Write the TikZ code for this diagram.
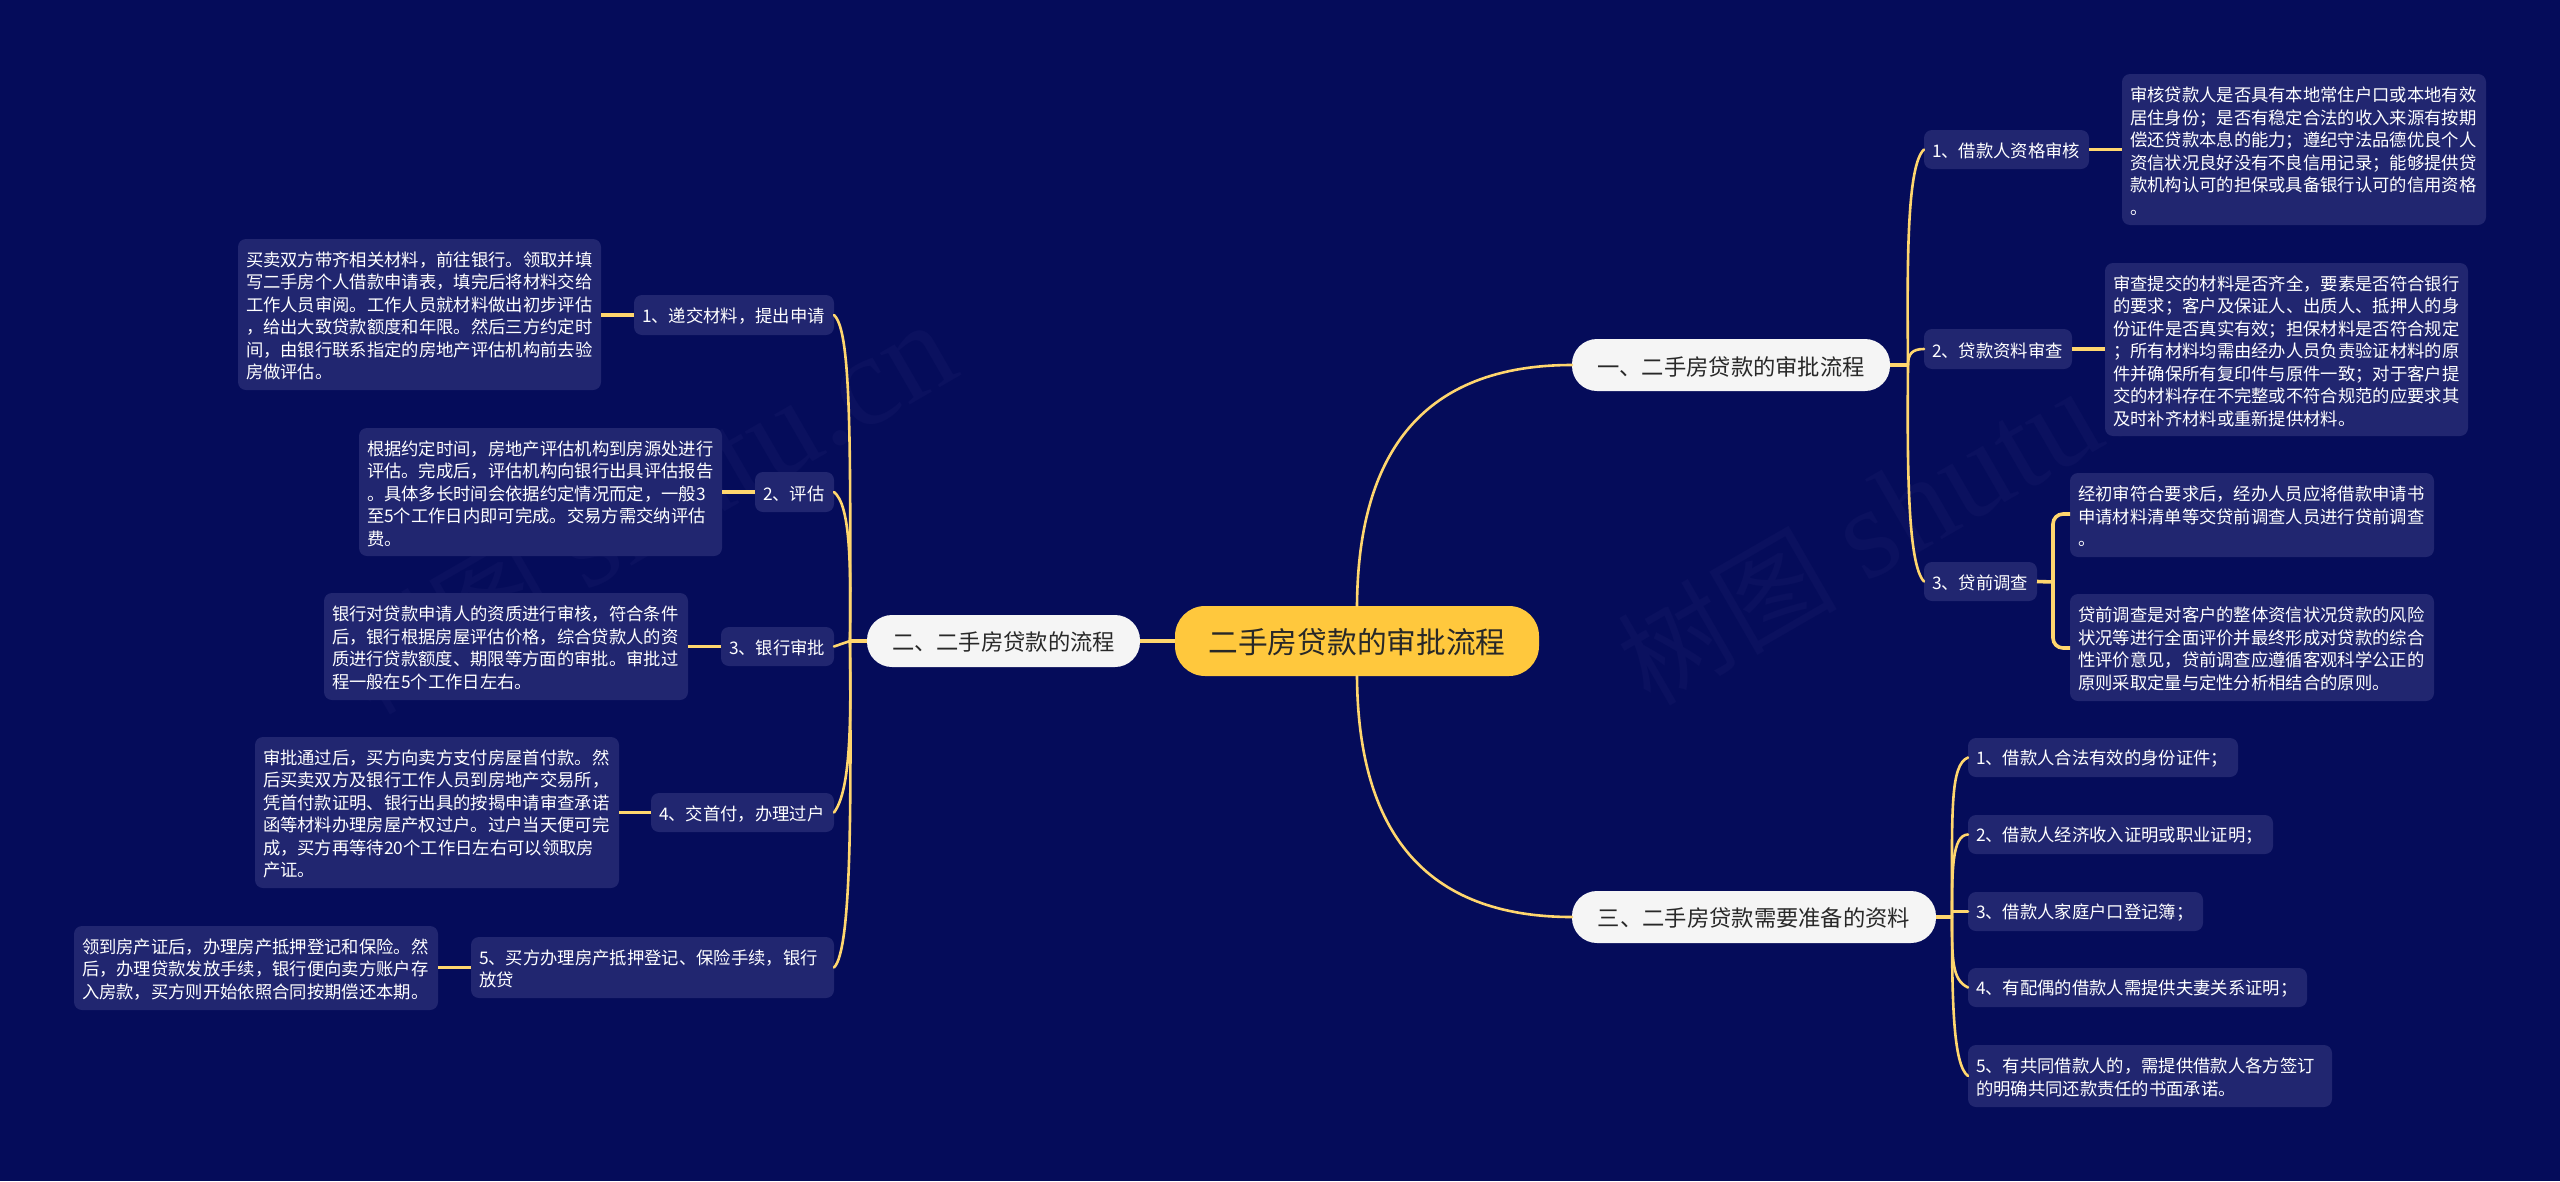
\documentclass[tikz,border=0pt]{standalone}
\usepackage{fontspec}
\setmainfont{Noto Sans CJK SC}
\newfontfamily\wmfont{Liberation Serif}
\definecolor{bgc}{RGB}{5,12,90}
\definecolor{boxc}{RGB}{33,38,112}
\definecolor{linec}{RGB}{255,214,110}
\definecolor{mainc}{RGB}{255,200,61}
\definecolor{pillc}{RGB}{245,245,245}
\definecolor{wmc}{RGB}{11,17,95}
\definecolor{darktxt}{RGB}{40,40,40}
\tikzset{
 textbox/.style={fill=boxc,text=white,rounded corners=8pt,inner sep=0pt,outer sep=0pt,font=\fontsize{17.33}{22.5}\selectfont},
 pill/.style={fill=pillc,text=darktxt,rounded corners=25pt,inner sep=0pt,outer sep=0pt,font=\fontsize{22.3}{28}\selectfont},
 mainbox/.style={fill=mainc,text=darktxt,rounded corners=30pt,inner sep=0pt,outer sep=0pt,font=\fontsize{29.7}{36}\selectfont},
 conn/.style={draw=linec,line width=2.6pt,line cap=round},
 thick conn/.style={draw=linec,line width=3.6pt},
 wm/.style={text=wmc,inner sep=0pt,rotate=30,anchor=base west,font=\fontsize{110}{120}\selectfont}
}
\newcommand\wmtext{树图\hspace{29pt}{\wmfont\fontsize{130}{130}\selectfont shutu.cn}}
% box: name, x1, y1, x2, y2, text
\newcommand\tbox[6]{\pgfmathsetmacro\bw{#4-#2}\pgfmathsetmacro\bh{#5-#3}\pgfmathsetmacro\tw{#4-#2-16}%
 \node[textbox,minimum width=\bw pt,minimum height=\bh pt] (#1) at ({(#2+#4)/2},{(#3+#5)/2}) {\raisebox{-1.5pt}[\height][\depth]{\parbox{\tw pt}{\raggedright #6}}};}
\newcommand\pbox[7]{\pgfmathsetmacro\bw{#5-#3}\pgfmathsetmacro\bh{#6-#4}%
 \node[#1,minimum width=\bw pt,minimum height=\bh pt] (#2) at ({(#3+#5)/2},{(#4+#6)/2}) {\raisebox{-1.5pt}[\height][\depth]{#7}};}
\begin{document}
\begin{tikzpicture}[x=1pt,y=-1pt]
\fill[bgc] (0,0) rectangle (2560,1181);
\useasboundingbox (0,0) rectangle (2560,1181);
% watermarks
\node[wm] (wmr) at (1650,708) {\wmtext};
\node[wm] (wml) at (370,717) {\wmtext};
% nodes
\pbox{mainbox}{root}{1175}{606}{1539}{676}{二手房贷款的审批流程}
\pbox{pill}{rone}{1572}{339}{1890}{391}{一、二手房贷款的审批流程}
\pbox{pill}{ltwo}{867}{615}{1140}{667}{二、二手房贷款的流程}
\pbox{pill}{rthree}{1572}{891}{1936}{943}{三、二手房贷款需要准备的资料}
% left labels
\tbox{la}{634}{295}{834}{335}{1、递交材料，提出申请}
\tbox{lb}{755}{472}{834}{512}{2、评估}
\tbox{lc}{721}{627}{834}{666}{3、银行审批}
\tbox{ld}{651}{793}{834}{832}{4、交首付，办理过户}
\tbox{le}{471}{937}{834}{998}{5、买方办理房产抵押登记、保险手续，银行\\放贷}
% left boxes
\tbox{ba}{238}{239}{601}{390}{买卖双方带齐相关材料，前往银行。领取并填\\写二手房个人借款申请表，填完后将材料交给\\工作人员审阅。工作人员就材料做出初步评估\\，给出大致贷款额度和年限。然后三方约定时\\间，由银行联系指定的房地产评估机构前去验\\房做评估。}
\tbox{bb}{359}{428}{722}{556}{根据约定时间，房地产评估机构到房源处进行\\评估。完成后，评估机构向银行出具评估报告\\。具体多长时间会依据约定情况而定，一般3\\至5个工作日内即可完成。交易方需交纳评估\\费。}
\tbox{bc}{324}{593}{688}{700}{银行对贷款申请人的资质进行审核，符合条件\\后，银行根据房屋评估价格，综合贷款人的资\\质进行贷款额度、期限等方面的审批。审批过\\程一般在5个工作日左右。}
\tbox{bd}{255}{737}{619}{888}{审批通过后，买方向卖方支付房屋首付款。然\\后买卖双方及银行工作人员到房地产交易所，\\凭首付款证明、银行出具的按揭申请审查承诺\\函等材料办理房屋产权过户。过户当天便可完\\成，买方再等待20个工作日左右可以领取房\\产证。}
\tbox{be}{74}{926}{438}{1010}{领到房产证后，办理房产抵押登记和保险。然\\后，办理贷款发放手续，银行便向卖方账户存\\入房款，买方则开始依照合同按期偿还本期。}
% right labels
\tbox{ra}{1924}{130}{2089}{169}{1、借款人资格审核}
\tbox{rb}{1924}{329}{2072}{369}{2、贷款资料审查}
\tbox{rc}{1924}{562}{2037}{601}{3、贷前调查}
% right boxes
\tbox{ca}{2122}{74}{2486}{225}{审核贷款人是否具有本地常住户口或本地有效\\居住身份；是否有稳定合法的收入来源有按期\\偿还贷款本息的能力；遵纪守法品德优良个人\\资信状况良好没有不良信用记录；能够提供贷\\款机构认可的担保或具备银行认可的信用资格\\。}
\tbox{cb}{2105}{263}{2468}{436}{审查提交的材料是否齐全，要素是否符合银行\\的要求；客户及保证人、出质人、抵押人的身\\份证件是否真实有效；担保材料是否符合规定\\；所有材料均需由经办人员负责验证材料的原\\件并确保所有复印件与原件一致；对于客户提\\交的材料存在不完整或不符合规范的应要求其\\及时补齐材料或重新提供材料。}
\tbox{cc}{2070}{473}{2434}{557}{经初审符合要求后，经办人员应将借款申请书\\申请材料清单等交贷前调查人员进行贷前调查\\。}
\tbox{cd}{2070}{594}{2434}{701}{贷前调查是对客户的整体资信状况贷款的风险\\状况等进行全面评价并最终形成对贷款的综合\\性评价意见，贷前调查应遵循客观科学公正的\\原则采取定量与定性分析相结合的原则。}
% items
\tbox{ia}{1968}{738}{2238}{777}{1、借款人合法有效的身份证件；}
\tbox{ib}{1968}{815}{2273}{854}{2、借款人经济收入证明或职业证明；}
\tbox{ic}{1968}{892}{2203}{931}{3、借款人家庭户口登记簿；}
\tbox{id}{1968}{968}{2307}{1007}{4、有配偶的借款人需提供夫妻关系证明；}
\tbox{ie}{1968}{1045}{2332}{1107}{5、有共同借款人的，需提供借款人各方签订\\的明确共同还款责任的书面承诺。}
% spine coordinates
\coordinate (sl) at (850,641);
\coordinate (sr) at (1908,365);
\coordinate (sc) at (2053,582);
\coordinate (si) at (1952,917);
% connectors
\draw[conn] (root.north) .. controls (1358,450) and (1425,365) .. (rone.west);
\draw[conn] (root.south) .. controls (1358,832) and (1425,917) .. (rthree.west);
\draw[thick conn] (root.west) -- (ltwo.east);
\draw[thick conn] (ltwo.west) -- (sl);
\draw[thick conn] (rone.east) -- (sr);
\draw[thick conn] (rthree.east) -- (si);
\draw[conn] (sl) .. controls (851,420) and (850,330) .. (la.east);
\draw[conn] (sl) .. controls (851,560) and (850,505) .. (lb.east);
\draw[conn] (sl) -- (lc.east);
\draw[conn] (sl) .. controls (851,720) and (851,790) .. (ld.east);
\draw[conn] (sl) .. controls (851,800) and (852,950) .. (le.east);
\draw[conn] (sr) .. controls (1907,260) and (1907,165) .. (ra.west);
\draw[conn] (sr) .. controls (1908,354) and (1912,349) .. (rb.west);
\draw[conn] (sr) .. controls (1907,470) and (1908,565) .. (rc.west);
\draw[conn] (si) .. controls (1952,810) and (1950,765) .. (ia.west);
\draw[conn] (si) .. controls (1952,870) and (1952,835) .. (ib.west);
\draw[conn] (si) -- (1952,911.5) -- (ic.west);
\draw[conn] (si) .. controls (1952,960) and (1952,980) .. (id.west);
\draw[conn] (si) .. controls (1952,1000) and (1953,1065) .. (ie.west);
\draw[thick conn] (rc.east) -- (sc);
\draw[thick conn,rounded corners=10pt] (cc.west |- 0,514) -- (sc |- 0,514) -- (sc |- 0,648) -- (cd.west |- 0,648);
\draw[thick conn] (la.west) -- (ba.east |- la.west);
\draw[thick conn] (lb.west) -- (bb.east |- lb.west);
\draw[thick conn] (lc.west) -- (bc.east |- lc.west);
\draw[thick conn] (ld.west) -- (bd.east |- ld.west);
\draw[thick conn] (le.west) -- (be.east |- le.west);
\draw[thick conn] (ra.east) -- (ca.west |- ra.east);
\draw[thick conn] (rb.east) -- (cb.west |- rb.east);
\end{tikzpicture}
\end{document}
